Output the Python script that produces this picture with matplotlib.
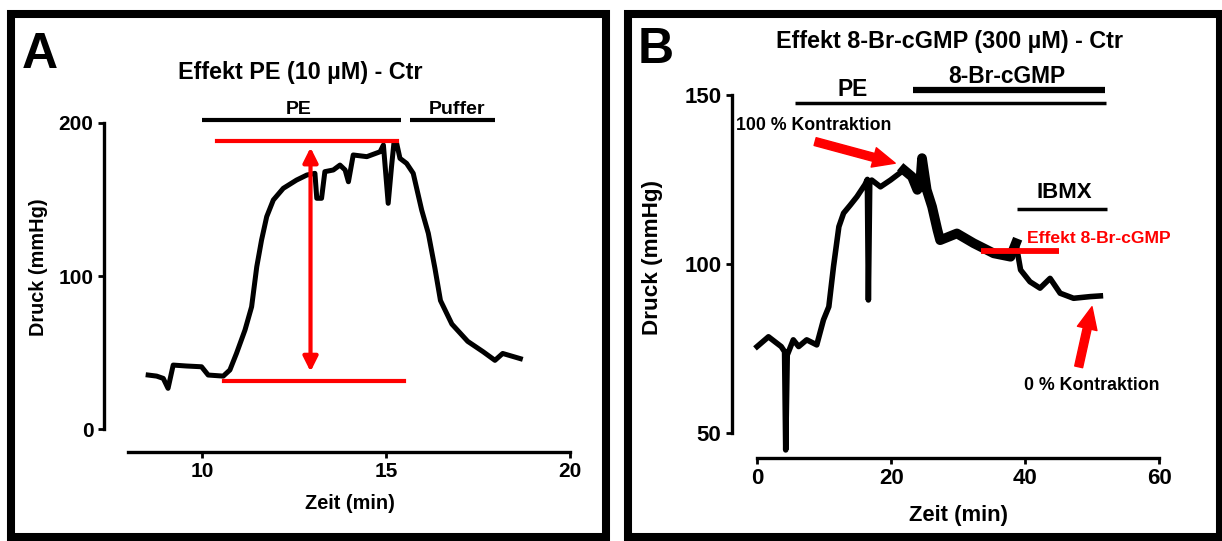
import matplotlib.pyplot as plt
from matplotlib.patches import Rectangle

plt.rcParams['font.family'] = ['Liberation Sans', 'DejaVu Sans']
plt.rcParams['font.weight'] = 'bold'

# Panel A: Effekt PE (10 uM) - Ctr
a_time = [8.54, 8.77, 8.95, 9.08, 9.22, 9.58, 9.99, 10.17, 10.58, 10.76, 10.94, 11.17,
          11.35, 11.49, 11.62, 11.76, 11.94, 12.21, 12.57, 12.85, 13.07, 13.12, 13.25,
          13.34, 13.57, 13.75, 13.89, 13.98, 14.11, 14.48, 14.84, 14.93, 15.06, 15.15,
          15.22, 15.29, 15.38, 15.56, 15.74, 15.97, 16.15, 16.33, 16.48, 16.79, 17.22,
          17.64, 17.96, 18.17, 18.65]
a_druck = [35.3, 34.6, 33.1, 26.6, 41.8, 41.2, 40.7, 35.3, 34.6, 38.6, 49.5, 64.7,
           79.9, 106.1, 123.5, 138.8, 149.7, 157.3, 162.7, 166.0, 167.1, 150.8, 150.8,
           168.2, 169.3, 172.5, 169.3, 161.6, 179.1, 178.0, 181.2, 185.6, 147.5, 171.4,
           187.8, 186.7, 176.9, 173.6, 167.1, 143.1, 127.9, 105.0, 84.0, 68.6, 57.3,
           50.5, 44.9, 49.4, 46.0]
a_xticks = [10, 15, 20]
a_yticks = [0, 100, 200]

# Panel B: Effekt 8-Br-cGMP (300 uM) - Ctr
b_time = [0.0, 1.7, 3.6, 4.1, 4.27, 4.5, 5.4, 6.2, 7.4, 8.9, 9.9, 10.7, 11.4, 12.2,
          12.9, 13.9, 14.9, 16.1, 16.45, 16.6, 16.8, 17.1, 18.4, 19.9, 21.9, 23.1, 23.9,
          24.3, 24.6, 25.3, 26.1, 26.9, 27.3, 29.8, 32.3, 35.3, 37.8, 38.6, 39.3, 40.7,
          42.2, 43.7, 45.2, 47.2, 49.7, 51.2]
b_druck = [75.5, 78.4, 75.5, 74.0, 44.9, 73.0, 77.5, 75.5, 77.5, 76.0, 83.4, 87.3,
           99.2, 111.0, 115.0, 117.4, 119.9, 123.5, 125.0, 89.3, 124.0, 124.8, 122.8,
           124.8, 127.8, 125.8, 121.9, 123.0, 131.3, 121.9, 116.9, 110.0, 107.0, 109.0,
           106.1, 103.1, 102.1, 106.1, 98.2, 94.7, 92.8, 95.7, 91.3, 89.8, 90.3, 90.5]
b_xticks = [0, 20, 40, 60]
b_yticks = [50, 100, 150]

red = '#ff0000'

fig = plt.figure(figsize=(12.22, 5.41), dpi=100)

# panel frames
for x0, x1 in [(11, 606), (627.5, 1219.5)]:
    fig.patches.append(Rectangle((x0 / 1222, 4 / 541), (x1 - x0) / 1222, (527.5 - 4) / 541,
                                 transform=fig.transFigure, fill=False, lw=5.8,
                                 ec='black'))

axA = fig.add_axes([0.0851, 0.1645, 0.3844, 0.7213])
axB = fig.add_axes([0.5988, 0.154, 0.3527, 0.7641])

for ax in (axA, axB):
    ax.patch.set_visible(False)
    ax.spines[['top', 'right']].set_visible(False)
    for s in ('left', 'bottom'):
        ax.spines[s].set_linewidth(2.4)
    ax.tick_params(width=2.0, length=4.5)

# ---- A ----
axA.plot(a_time, a_druck, color='black', lw=3.6)
axA.set_xlim(7.34, 20.1)
axA.set_ylim(-15, 240)
axA.spines['left'].set_bounds(0, 200)
axA.spines['bottom'].set_bounds(8, 20)
axA.set_xticks(a_xticks)
axA.set_yticks(a_yticks)
axA.tick_params(labelsize=15, pad=3)

axA.plot([10.40, 15.29], [188.2, 188.2], color=red, lw=3)
axA.plot([10.60, 15.49], [31.4, 31.4], color=red, lw=3)
axA.annotate('', xy=(12.95, 184), xytext=(12.95, 37.5),
             arrowprops=dict(arrowstyle='<|-|>', color=red, lw=3, mutation_scale=22,
                             shrinkA=0, shrinkB=0))
axA.plot([9.99, 15.4], [202.2, 202.2], color='black', lw=3, solid_capstyle='butt')
axA.plot([15.65, 17.96], [202.2, 202.2], color='black', lw=3, solid_capstyle='butt')
axA.text(12.64, 206, 'PE', ha='center', va='baseline', fontsize=14)
axA.text(16.93, 206, 'Puffer', ha='center', va='baseline', fontsize=14)

fig.text(0.2455, 0.8547, 'Effekt PE (10 µM) - Ctr', ha='center', va='baseline', fontsize=16.8)
fig.text(0.0319, 0.5065, 'Druck (mmHg)', rotation=90, ha='center', va='center', fontsize=14.3)
fig.text(0.286, 0.0599, 'Zeit (min)', ha='center', va='baseline', fontsize=14.3)
fig.text(0.0178, 0.8738, 'A', ha='left', va='baseline', fontsize=36)

# ---- B ----
axB.plot(b_time, b_druck, color='black', lw=4)
# noisier stretch of the recording drawn heavier
noisy = [i for i, t in enumerate(b_time) if 21.9 <= t <= 38.6]
axB.plot([b_time[i] for i in noisy], [b_druck[i] for i in noisy], color='black', lw=7,
         solid_joinstyle='round')
axB.set_xlim(-3.78, 60.5)
axB.set_ylim(42.6, 165)
axB.spines['left'].set_bounds(50, 150)
axB.spines['bottom'].set_bounds(0, 60)
axB.set_xticks(b_xticks)
axB.set_yticks(b_yticks)
axB.tick_params(labelsize=16, pad=3)

axB.plot([5.67, 52.0], [147.5, 147.5], color='black', lw=2.5, solid_capstyle='butt')
axB.plot([23.2, 51.9], [151.4, 151.4], color='black', lw=4.5, solid_capstyle='butt')
axB.plot([38.7, 52.2], [116.2, 116.2], color='black', lw=2.5, solid_capstyle='butt')
axB.plot([33.4, 45.1], [103.7, 103.7], color=red, lw=4.2, solid_capstyle='butt')
axB.text(14.2, 149.6, 'PE', ha='center', va='baseline', fontsize=16.4)
axB.text(37.2, 153.4, '8-Br-cGMP', ha='center', va='baseline', fontsize=16.4)
axB.text(45.8, 119.4, 'IBMX', ha='center', va='baseline', fontsize=16)
axB.text(50.9, 106.1, 'Effekt 8-Br-cGMP', ha='center', va='baseline', fontsize=12.6,
         color=red)
axB.text(8.5, 139.6, '100 % Kontraktion', ha='center', va='baseline', fontsize=12.8)
axB.text(49.85, 62.6, '0 % Kontraktion', ha='center', va='baseline', fontsize=12.8)

arrow = dict(arrowstyle='simple,head_width=0.72,head_length=0.8,tail_width=0.29',
             color=red, mutation_scale=20, shrinkA=0, shrinkB=0)
axB.annotate('', xy=(20.6, 129.8), xytext=(8.66, 136.2), arrowprops=arrow)
axB.annotate('', xy=(49.95, 87.3), xytext=(47.96, 69.5), arrowprops=arrow)

fig.text(0.777, 0.9107, 'Effekt 8-Br-cGMP (300 µM) - Ctr', ha='center', va='baseline',
         fontsize=16.8)
fig.text(0.534, 0.5235, 'Druck (mmHg)', rotation=90, ha='center', va='center', fontsize=16.2)
fig.text(0.7843, 0.0375, 'Zeit (min)', ha='center', va='baseline', fontsize=15.8)
fig.text(0.522, 0.8835, 'B', ha='left', va='baseline', fontsize=36)

fig.savefig('out.png', dpi=100)
